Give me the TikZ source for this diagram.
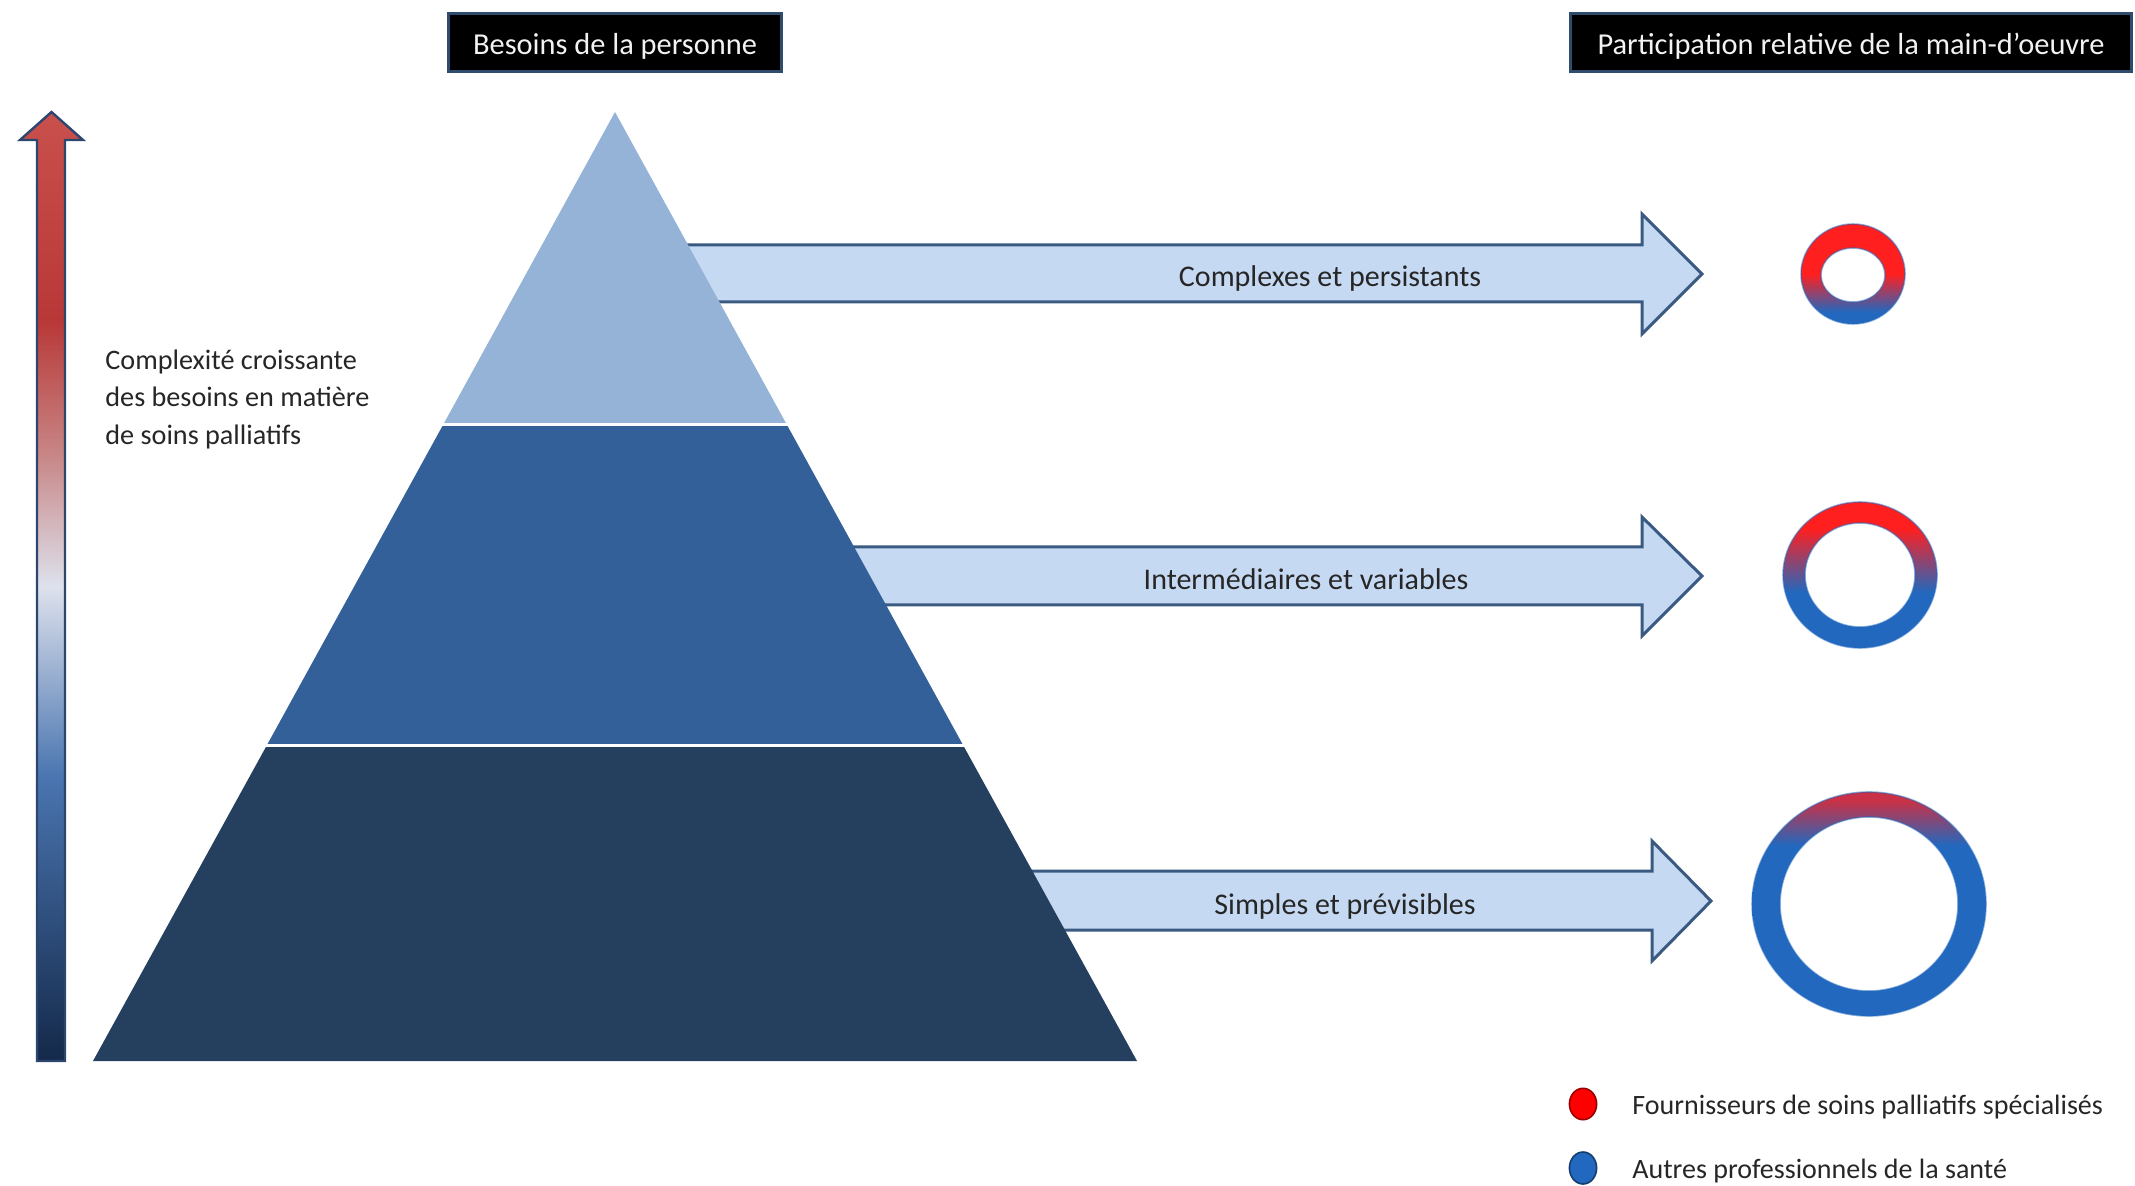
\documentclass[tikz,border=0pt]{standalone}
\usepackage{fontspec}
\setmainfont{Carlito}
\definecolor{pyrtop}{HTML}{95B3D7}
\definecolor{pyrmid}{HTML}{34609A}
\definecolor{pyrbot}{HTML}{253F5F}
\definecolor{arrfill}{HTML}{C6D9F3}
\definecolor{arrline}{HTML}{3A5A82}
\definecolor{hdrline}{HTML}{2F4B6E}
\definecolor{labeltext}{HTML}{262626}
\definecolor{ringred}{HTML}{FF1F1F}
\definecolor{ringblue}{HTML}{2268BE}
\definecolor{vnavy}{HTML}{14294A}
\definecolor{vblue}{HTML}{4A75B0}
\definecolor{vpale}{HTML}{DDE1EC}
\definecolor{vpink}{HTML}{C88585}
\definecolor{vredb}{HTML}{B83838}
\definecolor{vreda}{HTML}{C9504C}
\definecolor{vline}{HTML}{2C466E}
\pgfdeclareverticalshading{complexity}{100bp}{color(0bp)=(vnavy); color(25bp)=(vnavy); color(40bp)=(vblue); color(50bp)=(vpale); color(57bp)=(vpink); color(64bp)=(vredb); color(75bp)=(vreda); color(100bp)=(vreda)}
\pgfdeclareverticalshading{ringA}{100bp}{color(0bp)=(ringblue); color(25bp)=(ringblue); color(31bp)=(ringblue); color(50bp)=(ringred); color(100bp)=(ringred)}
\pgfdeclareverticalshading{ringB}{100bp}{color(0bp)=(ringblue); color(25bp)=(ringblue); color(44bp)=(ringblue); color(66bp)=(ringred); color(100bp)=(ringred)}
\pgfdeclareverticalshading{ringC}{100bp}{color(0bp)=(ringblue); color(25bp)=(ringblue); color(63bp)=(ringblue); color(73bp)=(ringred!75!ringblue); color(100bp)=(ringred!75!ringblue)}
\begin{document}
\begin{tikzpicture}[x=0.5pt,y=-0.5pt,
  lbl/.style={font=\fontsize{15}{17}\selectfont, text=labeltext, inner sep=0pt},
  hdr/.style={draw=hdrline, line width=1.5pt, fill=black, text=white!95!black, inner sep=0pt, minimum height=29pt, font=\fontsize{15.2}{17}\selectfont},
  blockarrow/.style={draw=arrline, line width=1.5pt, fill=arrfill, line join=miter},
  sep/.style={draw=white, line width=1.5pt},
  ringedge/.style={draw=ringblue, line width=0.8pt, opacity=0.5},
  dot/.style={draw=#1!60!black, line width=0.8pt, fill=#1},
]
\useasboundingbox (0,0) rectangle (2135,1186);

% headers
\node[hdr, minimum width=166.5pt] (h1) at (615,43) {\raisebox{-2pt}[0.75em][0.25em]{Besoins de la personne}};
\node[hdr, minimum width=280.5pt] (h2) at (1851,43) {\raisebox{-2pt}[0.75em][0.25em]{Participation relative de la main-d’oeuvre}};

% vertical complexity arrow
\shade[shading=complexity, draw=vline, line width=1.2pt, line join=miter]
  (37,1061) -- (37,140) -- (20,140) -- (51.5,112) -- (83,140) -- (65,140) -- (65,1061) -- cycle;
\node[lbl, font=\fontsize{14.1}{18.75}\selectfont, align=left, anchor=west] (cx) at (105,399)
  {Complexité croissante\\des besoins en matière\\de soins palliatifs};

% block arrows (drawn before the pyramid so it hides their tails)
\draw[blockarrow] (650,245) -- (1642,245) -- (1642,214) -- (1702,274) -- (1642,334) -- (1642,302) -- (650,302) -- cycle;
\draw[blockarrow] (800,547) -- (1642,547) -- (1642,517) -- (1702,576) -- (1642,636) -- (1642,605) -- (800,605) -- cycle;
\draw[blockarrow] (990,871) -- (1652,871) -- (1652,841) -- (1711,901) -- (1652,961) -- (1652,930) -- (990,930) -- cycle;
\node[lbl] (a1) at (1330,279) {Complexes et persistants};
\node[lbl] (a2) at (1306,579) {Intermédiaires et variables};
\node[lbl] (a3) at (1345,906) {Simples et prévisibles};

% pyramid
\fill[pyrtop] (615,112) -- (787,425) -- (443,425) -- cycle;
\fill[pyrmid] (443,425) -- (787,425) -- (963,745) -- (267,745) -- cycle;
\fill[pyrbot] (267,745) -- (963,745) -- (1137,1061) -- (93,1061) -- cycle;
\draw[sep] (436,425) -- (794,425);
\draw[sep] (260,745) -- (970,745);

% rings
\shade[shading=ringA, even odd rule] (1853,274) ellipse [x radius=52, y radius=50] (1853,275) ellipse [x radius=32, y radius=27];
\draw[ringedge] (1853,274) ellipse [x radius=52, y radius=50];
\draw[ringedge] (1853,275) ellipse [x radius=32, y radius=27];
\shade[shading=ringB, even odd rule] (1860,575) ellipse [x radius=77, y radius=73] (1860,575) ellipse [x radius=55, y radius=52];
\draw[ringedge] (1860,575) ellipse [x radius=77, y radius=73];
\draw[ringedge] (1860,575) ellipse [x radius=55, y radius=52];
\shade[shading=ringC, even odd rule] (1869,904) ellipse [x radius=117, y radius=112] (1869,904) ellipse [x radius=89, y radius=87];
\draw[ringedge] (1869,904) ellipse [x radius=117, y radius=112];
\draw[ringedge] (1869,904) ellipse [x radius=89, y radius=87];

% legend
\path[dot=red] (1583,1104) ellipse [x radius=13.6, y radius=15.7];
\path[dot=ringblue] (1583,1168) ellipse [x radius=13.6, y radius=16];
\node[lbl, font=\fontsize{14}{16}\selectfont, anchor=west] (l1) at (1632,1107) {Fournisseurs de soins palliatifs spécialisés};
\node[lbl, font=\fontsize{14}{16}\selectfont, anchor=west] (l2) at (1632,1171) {Autres professionnels de la santé};
\end{tikzpicture}
\end{document}
